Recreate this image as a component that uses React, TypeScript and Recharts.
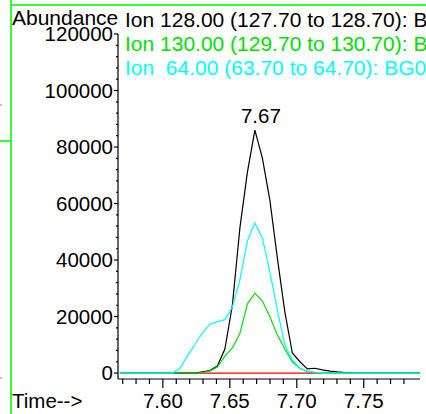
import { LineChart, Line, XAxis, YAxis, Legend } from 'recharts'

// retention time (min)
const times = [
  7.5679, 7.5735, 7.5791, 7.5847, 7.5903, 7.5959, 7.6015, 7.6071, 7.6127, 7.6183,
  7.6239, 7.6295, 7.6351, 7.6407, 7.6463, 7.6519, 7.6575, 7.6631, 7.6687, 7.6743,
  7.6799, 7.6855, 7.6911, 7.6967, 7.7023, 7.7079, 7.7135, 7.7191, 7.7247, 7.7303,
  7.7359, 7.7415, 7.7471, 7.7527, 7.7583, 7.7639, 7.7695, 7.7751, 7.7807, 7.7863,
  7.7919,
]

const ion128 = [
  0, 0, 0, 0, 0, 0, 0, 0, 0, 0,
  0, 400, 900, 2500, 8500, 24000, 51300, 71000, 86000, 76100,
  61200, 40700, 21600, 7100, 4000, 1500, 1700, 1100, 700, 400,
  200, 0, 0, 0, 0, 0, 0, 0, 0, 0,
  0,
]

const ion130 = [
  0, 0, 0, 0, 0, 0, 0, 0, 0, 0,
  0, 200, 700, 2100, 6000, 8900, 14000, 24400, 28300, 25500,
  19900, 13500, 8500, 3900, 1700, 500, 200, 0, 0, 0,
  0, 0, 0, 0, 0, 0, 0, 0, 0, 0,
  0,
]

const ion64 = [
  0, 0, 0, 0, 0, 0, 0, 0, 1600, 6000,
  10100, 14200, 17300, 18200, 18900, 23400, 32900, 46700, 53100, 47800,
  35800, 22300, 9900, 4600, 1800, 700, 300, 0, 0, 0,
  0, 0, 0, 0, 0, 0, 0, 0, 0, 0,
  0,
]

const ionBase = [
  0, 0, 0, 0, 0, 0, 0, 0, 0, 0,
  0, 0, 0, 0, 0, 0, 0, 0, 0, 0,
  0, 0, 0, 0, 0, 0, 0, 0, 0, 0,
  0, 0, 0, 0, 0, 0, 0, 0, 0, 0,
  0,
]

const names = {
  ion128: 'Ion 128.00 (127.70 to 128.70): BG0',
  ion130: 'Ion 130.00 (129.70 to 130.70): BG0',
  ion64: 'Ion  64.00 (63.70 to 64.70): BG0',
}
const legendOrder = ['ion128', 'ion130', 'ion64']

const xTicks = [
  7.57, 7.58, 7.59, 7.6, 7.61, 7.62, 7.63, 7.64, 7.65, 7.66, 7.67,
  7.68, 7.69, 7.7, 7.71, 7.72, 7.73, 7.74, 7.75, 7.76, 7.77, 7.78,
]
const xMajor = [7.6, 7.65, 7.7, 7.75]

const yTicks = [
  0, 4000, 8000, 12000, 16000, 20000, 24000, 28000, 32000, 36000, 40000,
  44000, 48000, 52000, 56000, 60000, 64000, 68000, 72000, 76000, 80000,
  84000, 88000, 92000, 96000, 100000, 104000, 108000, 112000, 116000, 120000,
]
const yMajor = [0, 20000, 40000, 60000, 80000, 100000, 120000]

const data = times.map((t, i) => ({
  t,
  base: ionBase[i],
  ion128: ion128[i],
  ion130: ion130[i],
  ion64: ion64[i],
}))

const peakIndex = ion128.indexOf(Math.max(...ion128))

const font = '"Liberation Sans", Arial, sans-serif'

const XTick = ({ x, y, payload }: any) => {
  const major = xMajor.includes(payload.value)
  return (
    <g>
      <line x1={x} x2={x} y1={y} y2={y + (major ? 9 : 5)} stroke="#000" strokeWidth={1.2} />
      {major && (
        <text x={x} y={y + 29} textAnchor="middle" fontSize={20.5} fontFamily={font} fill="#000">
          {payload.value.toFixed(2)}
        </text>
      )}
    </g>
  )
}

const YTick = ({ x, y, payload }: any) => {
  const major = yMajor.includes(payload.value)
  return (
    <g>
      <line x1={x} x2={x - (major ? 4 : 2)} y1={y} y2={y} stroke="#000" strokeWidth={1.2} />
      {major && (
        <text x={x - 5} y={y + 7} textAnchor="end" fontSize={20.5} fontFamily={font} fill="#000">
          {payload.value}
        </text>
      )}
    </g>
  )
}

const peakLabel = (p: any) =>
  p.index === peakIndex ? (
    <text x={p.x + 6} y={p.y - 7} textAnchor="middle" fontSize={20.5} fontFamily={font} fill="#000">
      {times[peakIndex].toFixed(2)}
    </text>
  ) : (
    <g />
  )

const IonLegend = ({ payload }: any) => {
  const items = (payload || [])
    .filter((e: any) => legendOrder.includes(e.dataKey))
    .sort((a: any, b: any) => legendOrder.indexOf(a.dataKey) - legendOrder.indexOf(b.dataKey))
  return (
    <div style={{ fontFamily: font, fontSize: 21, lineHeight: '24px', whiteSpace: 'pre' }}>
      {items.map((entry: any) => (
        <div key={entry.dataKey} style={{ color: entry.color }}>
          {entry.value}
        </div>
      ))}
    </div>
  )
}

export default function App() {
  return (
    <div
      style={{
        position: 'fixed',
        left: 0,
        top: 0,
        width: 426,
        height: 414,
        overflow: 'hidden',
        background: '#fff',
        fontFamily: font,
      }}
    >
      <LineChart
        width={426}
        height={414}
        data={data}
        margin={{ top: 34, right: 6, bottom: 0, left: 0 }}
      >
        <XAxis
          dataKey="t"
          type="number"
          domain={[7.5665, 7.792]}
          allowDataOverflow
          ticks={xTicks}
          interval={0}
          tick={<XTick />}
          tickSize={0}
          tickMargin={0}
          tickLine={false}
          height={35}
          axisLine={{ stroke: '#000', strokeWidth: 1.2 }}
        />
        <YAxis
          type="number"
          domain={[-2100, 120000]}
          allowDataOverflow
          ticks={yTicks}
          interval={0}
          tick={<YTick />}
          tickSize={0}
          tickMargin={0}
          tickLine={false}
          width={118}
          axisLine={{ stroke: '#000', strokeWidth: 1.2 }}
        />
        <Legend
          layout="horizontal"
          verticalAlign="middle"
          content={<IonLegend />}
          wrapperStyle={{ top: 8, left: 125, width: 420 }}
        />
        <Line dataKey="base" stroke="#ff0000" strokeWidth={1.2} dot={false} legendType="none" isAnimationActive={false} />
        <Line dataKey="ion128" name={names.ion128} stroke="#000000" strokeWidth={1.2} dot={false} label={peakLabel} isAnimationActive={false} />
        <Line dataKey="ion130" name={names.ion130} stroke="#00e000" strokeWidth={1.2} dot={false} isAnimationActive={false} />
        <Line dataKey="ion64" name={names.ion64} stroke="#00ffff" strokeWidth={1.2} dot={false} isAnimationActive={false} />
      </LineChart>
      <svg
        width={426}
        height={414}
        style={{ position: 'absolute', left: 0, top: 0, pointerEvents: 'none' }}
      >
        <line x1={11} x2={11} y1={0} y2={414} stroke="#33ff33" strokeWidth={2} />
        <line x1={11} x2={426} y1={5} y2={5} stroke="#33ff33" strokeWidth={2} />
        <line x1={0} x2={11} y1={141} y2={141} stroke="#33ff33" strokeWidth={2} />
        <line x1={0} x2={2} y1={105} y2={105} stroke="#888" strokeWidth={1} />
        <line x1={0} x2={2} y1={378} y2={378} stroke="#888" strokeWidth={1} />
        <text x={12} y={25} fontSize={21} fontFamily={font} fill="#000">Abundance</text>
        <text x={12} y={408} fontSize={20.5} fontFamily={font} fill="#000">Time--&gt;</text>
      </svg>
    </div>
  )
}
